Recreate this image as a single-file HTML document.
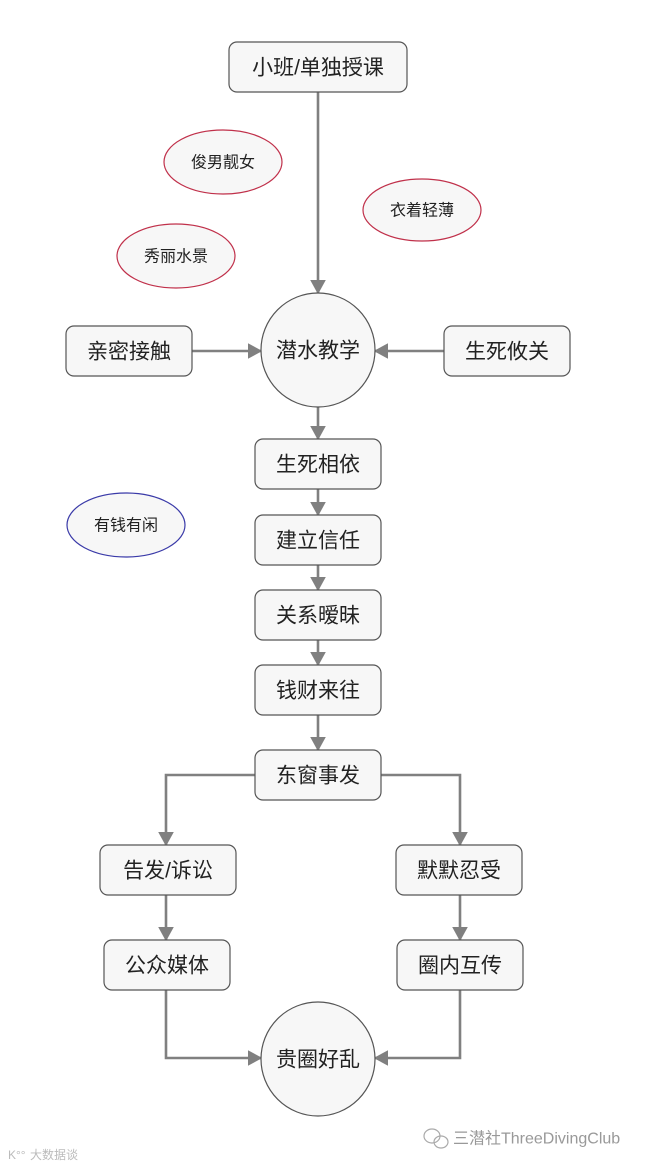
<!DOCTYPE html>
<html><head><meta charset="utf-8"><style>
body{margin:0;background:#fff;}
svg{display:block;}
text{font-family:"Liberation Sans","Noto Sans CJK SC",sans-serif;fill:#222;}
</style></head><body>
<svg width="646" height="1168" viewBox="0 0 646 1168" xmlns="http://www.w3.org/2000/svg">
<defs>
<marker id="a" markerWidth="5.5" markerHeight="6" refX="5" refY="3" orient="auto" markerUnits="strokeWidth">
<path d="M0,0 L5.5,3 L0,6 z" fill="#808080"/>
</marker>
</defs>
<g stroke="#808080" stroke-width="2.6" fill="none" marker-end="url(#a)">
<line x1="318" y1="92" x2="318" y2="293"/>
<line x1="192" y1="351" x2="261" y2="351"/>
<line x1="444" y1="351" x2="375" y2="351"/>
<line x1="318" y1="407" x2="318" y2="439"/>
<line x1="318" y1="489" x2="318" y2="515"/>
<line x1="318" y1="565" x2="318" y2="590"/>
<line x1="318" y1="640" x2="318" y2="665"/>
<line x1="318" y1="715" x2="318" y2="750"/>
<polyline points="255,775 166,775 166,845"/>
<polyline points="381,775 460,775 460,845"/>
<line x1="166" y1="895" x2="166" y2="940"/>
<line x1="460" y1="895" x2="460" y2="940"/>
<polyline points="166,990 166,1058 261,1058"/>
<polyline points="460,990 460,1058 375,1058"/>
</g>
<g fill="#f7f7f7" stroke="#555" stroke-width="1.2">
<rect x="229" y="42" width="178" height="50" rx="8"/>
<rect x="66" y="326" width="126" height="50" rx="8"/>
<rect x="444" y="326" width="126" height="50" rx="8"/>
<rect x="255" y="439" width="126" height="50" rx="8"/>
<rect x="255" y="515" width="126" height="50" rx="8"/>
<rect x="255" y="590" width="126" height="50" rx="8"/>
<rect x="255" y="665" width="126" height="50" rx="8"/>
<rect x="255" y="750" width="126" height="50" rx="8"/>
<rect x="100" y="845" width="136" height="50" rx="8"/>
<rect x="396" y="845" width="126" height="50" rx="8"/>
<rect x="104" y="940" width="126" height="50" rx="8"/>
<rect x="397" y="940" width="126" height="50" rx="8"/>
<circle cx="318" cy="350" r="57"/>
<circle cx="318" cy="1059" r="57"/>
</g>
<g fill="#f7f7f7" stroke="#c0304a" stroke-width="1.2">
<ellipse cx="223" cy="162" rx="59" ry="32"/>
<ellipse cx="422" cy="210" rx="59" ry="31"/>
<ellipse cx="176" cy="256" rx="59" ry="32"/>
</g>
<ellipse cx="126" cy="525" rx="59" ry="32" fill="#f7f7f7" stroke="#3a3aa8" stroke-width="1.2"/>
<g font-size="21" text-anchor="middle" dominant-baseline="central">
<text x="318" y="68">小班/单独授课</text>
<text x="129" y="352">亲密接触</text>
<text x="507" y="352">生死攸关</text>
<text x="318" y="351">潜水教学</text>
<text x="318" y="465">生死相依</text>
<text x="318" y="541">建立信任</text>
<text x="318" y="616">关系暧昧</text>
<text x="318" y="691">钱财来往</text>
<text x="318" y="776">东窗事发</text>
<text x="168" y="871">告发/诉讼</text>
<text x="459" y="871">默默忍受</text>
<text x="167" y="966">公众媒体</text>
<text x="460" y="966">圈内互传</text>
<text x="318" y="1060">贵圈好乱</text>
</g>
<g font-size="16" text-anchor="middle" dominant-baseline="central">
<text x="223" y="163">俊男靓女</text>
<text x="422" y="211">衣着轻薄</text>
<text x="176" y="257">秀丽水景</text>
<text x="126" y="526">有钱有闲</text>
</g>
<text x="453" y="1139" font-size="16" style="fill:#999" dominant-baseline="central">三潜社ThreeDivingClub</text>
<g stroke="#aaa" fill="none" stroke-width="1.2">
<ellipse cx="432" cy="1136" rx="8" ry="7"/>
<ellipse cx="441" cy="1142" rx="7" ry="6"/>
</g>
<text x="30" y="1155" font-size="12" style="fill:#bbb" dominant-baseline="central">大数据谈</text>
<text x="8" y="1155" font-size="12" style="fill:#bbb" dominant-baseline="central">K°°</text>
</svg>
</body></html>
